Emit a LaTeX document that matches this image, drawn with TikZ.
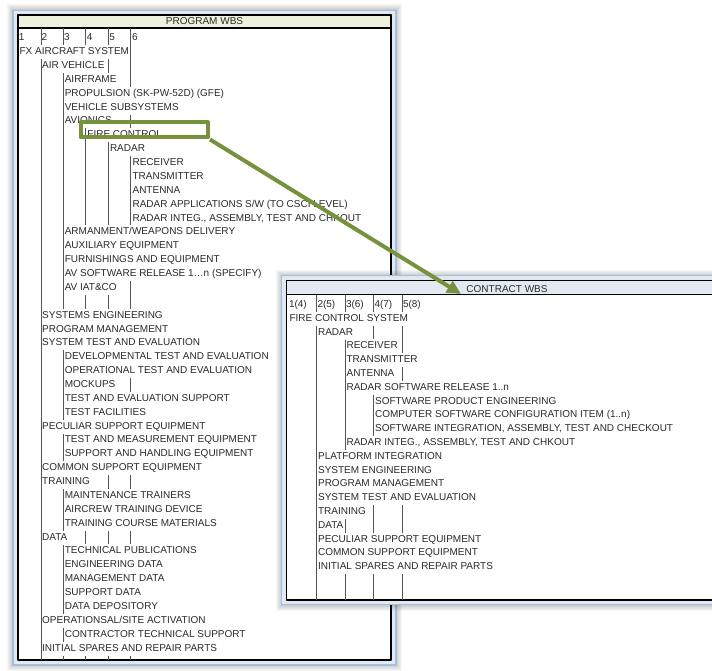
\documentclass[tikz,border=0pt]{standalone}
\usepackage{fontspec}
\setmainfont{Liberation Sans}
\usetikzlibrary{arrows.meta}

\definecolor{frameblue}{HTML}{A3BFE0}
\definecolor{framefill}{HTML}{E1E8F1}
\definecolor{pheadfill}{HTML}{EEF1DE}
\definecolor{cheadfill}{HTML}{E3E9F1}
\definecolor{hlgreen}{HTML}{76923C}
\definecolor{wbstext}{HTML}{2A2A2A}
\definecolor{wbsline}{HTML}{555555}

\tikzset{
  wbsitem/.style={anchor=west, fill=white, text=wbstext, font=\fontsize{10pt}{12pt}\selectfont,
    inner xsep=0.6pt, inner ysep=1.5pt, text height=8pt, text depth=3pt},
  wbshead/.style={anchor=base west, text=wbstext, font=\fontsize{10pt}{12pt}\selectfont, inner sep=0pt},
  wbstitle/.style={text=wbstext, font=\fontsize{10pt}{12pt}\selectfont, inner sep=0pt},
  colrule/.style={wbsline, line width=1pt},
  boxrule/.style={black, line width=1.4pt},
  hlbox/.style={draw=hlgreen, line width=4pt, inner sep=0pt},
  hlarrow/.style={hlgreen, line width=4pt, -{Triangle[length=14pt,width=13pt]}},
}

\begin{document}
\begin{tikzpicture}[x=1pt, y=-1pt, line join=round]
\useasboundingbox (0,0) rectangle (712,671);
\clip (0,0) rectangle (712,671);

% ---- program WBS ----
\foreach \d in {1,...,6}
  \fill[black, opacity=0.035] (13-\d,10.5-\d) rectangle (396+\d,665+\d); % shadow
\draw[frameblue, line width=1.5pt, fill=framefill] (13,10.5) rectangle (396,665);
\draw[boxrule, fill=white] (18,15) rectangle (391,660);
\draw[boxrule, fill=pheadfill] (18,15) rectangle (391,28);
\node[wbstitle] (pwbs) at (204.5,21.5) {PROGRAM WBS};

% column rules
\foreach \x in {41,63,85.5,108,130}
  \draw[colrule] (\x,28) -- (\x,660);

% level numbers
\foreach \i in {1,...,6}
  \node[wbshead] (ph\i) at ({20+22.6*(\i-1)-1.2},40.6) {\i};

% items: row / level / text
\foreach \r/\lv/\txt in {
  1/1/FX AIRCRAFT SYSTEM,
  2/2/AIR VEHICLE,
  3/3/AIRFRAME,
  4/3/PROPULSION (SK-PW-52D) (GFE),
  5/3/VEHICLE SUBSYSTEMS,
  6/3/AVIONICS,
  7/4/FIRE CONTROL,
  8/5/RADAR,
  9/6/RECEIVER,
  10/6/TRANSMITTER,
  11/6/ANTENNA,
  12/6/{RADAR APPLICATIONS S/W (TO CSCI LEVEL)},
  13/6/{RADAR INTEG., ASSEMBLY, TEST AND CHKOUT},
  14/3/{ARMANMENT/WEAPONS DELIVERY},
  15/3/AUXILIARY EQUIPMENT,
  16/3/FURNISHINGS AND EQUIPMENT,
  17/3/{AV SOFTWARE RELEASE 1\ldots n (SPECIFY)},
  18/3/AV IAT\&CO,
  20/2/SYSTEMS ENGINEERING,
  21/2/PROGRAM MANAGEMENT,
  22/2/SYSTEM TEST AND EVALUATION,
  23/3/DEVELOPMENTAL TEST AND EVALUATION,
  24/3/OPERATIONAL TEST AND EVALUATION,
  25/3/MOCKUPS,
  26/3/TEST AND EVALUATION SUPPORT,
  27/3/TEST FACILITIES,
  28/2/PECULIAR SUPPORT EQUIPMENT,
  29/3/TEST AND MEASUREMENT EQUIPMENT,
  30/3/SUPPORT AND HANDLING EQUIPMENT,
  31/2/COMMON SUPPORT EQUIPMENT,
  32/2/TRAINING,
  33/3/MAINTENANCE TRAINERS,
  34/3/AIRCREW TRAINING DEVICE,
  35/3/TRAINING COURSE MATERIALS,
  36/2/DATA,
  37/3/TECHNICAL PUBLICATIONS,
  38/3/ENGINEERING DATA,
  39/3/MANAGEMENT DATA,
  40/3/SUPPORT DATA,
  41/3/DATA DEPOSITORY,
  42/2/{OPERATIONSAL/SITE ACTIVATION},
  43/3/CONTRACTOR TECHNICAL SUPPORT,
  44/2/INITIAL SPARES AND REPAIR PARTS}
  \node[wbsitem] (p\r) at ({20+22.6*(\lv-1)-1.2},{51+13.87*(\r-1)+1.1}) {\txt};

% ---- contract WBS ----
\foreach \d in {1,...,6}
  \fill[black, opacity=0.035] (281.5-\d,275.5-\d) rectangle (732+\d,604.5+\d); % shadow
\draw[frameblue, line width=1.5pt, fill=framefill] (281.5,275.5) rectangle (732,604.5);
\draw[boxrule, fill=white] (286.5,280.5) rectangle (727,600);
\draw[boxrule, fill=cheadfill] (286.5,280.5) rectangle (727,294.5);
\node[wbstitle] (cwbs) at (507,289) {CONTRACT WBS};

% column rules
\foreach \x in {316.5,345,373.5,402}
  \draw[colrule] (\x,294.5) -- (\x,600);

% level numbers
\foreach \i/\j in {1/4,2/5,3/6,4/7,5/8}
  \node[wbshead] (ch\i) at ({290+28.5*(\i-1)-1.2},307.6) {\i(\j)};

% items: row / level / text
\foreach \r/\lv/\txt in {
  1/1/FIRE CONTROL SYSTEM,
  2/2/RADAR,
  3/3/RECEIVER,
  4/3/TRANSMITTER,
  5/3/ANTENNA,
  6/3/{RADAR SOFTWARE RELEASE 1{.}.n},
  7/4/SOFTWARE PRODUCT ENGINEERING,
  8/4/{COMPUTER SOFTWARE CONFIGURATION ITEM (1{.}.n)},
  9/4/{SOFTWARE INTEGRATION, ASSEMBLY, TEST AND CHECKOUT},
  10/3/{RADAR INTEG., ASSEMBLY, TEST AND CHKOUT},
  11/2/PLATFORM INTEGRATION,
  12/2/SYSTEM ENGINEERING,
  13/2/PROGRAM MANAGEMENT,
  14/2/SYSTEM TEST AND EVALUATION,
  15/2/TRAINING,
  16/2/DATA,
  17/2/PECULIAR SUPPORT EQUIPMENT,
  18/2/COMMON SUPPORT EQUIPMENT,
  19/2/INITIAL SPARES AND REPAIR PARTS}
  \node[wbsitem] (c\r) at ({290+28.5*(\lv-1)-1.2},{317.7+13.8*(\r-1)+1.1}) {\txt};

% ---- highlight and link ----
\node[hlbox, minimum width=127.5pt, minimum height=15pt] (fcbox) at (144.25,130) {};
\coordinate (ctip) at (461,294);
\draw[hlarrow] (fcbox.south east) -- (ctip);

\end{tikzpicture}
\end{document}
